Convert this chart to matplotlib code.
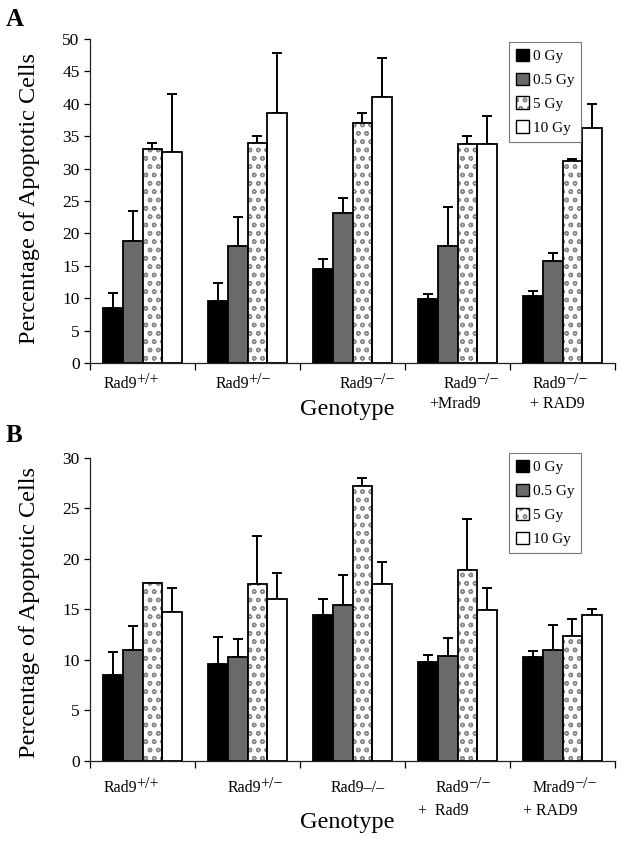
import numpy as np
import matplotlib
matplotlib.use("Agg")
import matplotlib.pyplot as plt
import matplotlib.transforms as mtransforms
from matplotlib.patches import Patch

plt.rcParams["font.family"] = ["Liberation Serif", "DejaVu Serif"]
plt.rcParams["hatch.linewidth"] = 1.0

# ── data ─────────────────────────────────────────────────────────────────────
doses = ["0 Gy", "0.5 Gy", "5 Gy", "10 Gy"]

# panel A: genotype labels (base, superscript, second line)
genotypes_a = [("Rad9", "+/+", ""),
               ("Rad9", "+/\u2212", ""),
               ("Rad9", "\u2212/\u2212", ""),
               ("Rad9", "\u2212/\u2212", "+Mrad9"),
               ("Rad9", "\u2212/\u2212", "+ RAD9")]
means_a_0gy   = [8.5, 9.6, 14.5, 9.9, 10.4]
means_a_05gy  = [18.8, 18.0, 23.1, 18.1, 15.7]
means_a_5gy   = [33.0, 34.0, 37.1, 33.8, 31.1]
means_a_10gy  = [32.5, 38.6, 41.1, 33.8, 36.2]
sd_a_0gy      = [2.3, 2.7, 1.6, 0.7, 0.7]
sd_a_05gy     = [4.7, 4.5, 2.4, 5.9, 1.3]
sd_a_5gy      = [1.0, 1.0, 1.5, 1.2, 0.4]
sd_a_10gy     = [9.0, 9.2, 6.0, 4.3, 3.7]

# panel B
genotypes_b = [("Rad9", "+/+", ""),
               ("Rad9", "+/\u2212", ""),
               ("Rad9\u2013/\u2013", "", ""),
               ("Rad9", "\u2212/\u2212", "+  Rad9"),
               ("Mrad9", "\u2212/\u2212", "+ RAD9")]
means_b_0gy   = [8.5, 9.6, 14.4, 9.8, 10.3]
means_b_05gy  = [11.0, 10.3, 15.4, 10.4, 11.0]
means_b_5gy   = [17.6, 17.5, 27.2, 18.9, 12.4]
means_b_10gy  = [14.7, 16.0, 17.5, 14.9, 14.4]
sd_b_0gy      = [2.3, 2.7, 1.6, 0.7, 0.6]
sd_b_05gy     = [2.4, 1.8, 3.0, 1.8, 2.5]
sd_b_5gy      = [0.05, 4.8, 0.8, 5.0, 1.6]
sd_b_10gy     = [2.4, 2.6, 2.2, 2.2, 0.6]

# ── style ────────────────────────────────────────────────────────────────────
BAR_W      = 0.186
FACES      = ["black", "#6a6a6a", "white", "white"]
HATCH_GRAY = "#8a8a8a"
HATCH      = "oo"
W, H       = 624, 841


def _ax_rect(left, right, top, bottom):
    """pixel box -> figure fraction rect"""
    return [left / W, 1 - bottom / H, (right - left) / W, (bottom - top) / H]


def draw_panel(ax, means, sds, ymax, genos, lab_x, lab_x2, lab_y, lab_y2, geno_y, leg_y):
    n = len(means[0])
    x = np.arange(n)
    for k in range(len(doses)):
        pos = x + (k - 1.5) * BAR_W
        if k == 2:
            ax.bar(pos, means[k], BAR_W, color="white", edgecolor=HATCH_GRAY,
                   linewidth=0, hatch=HATCH, zorder=2)
            ax.bar(pos, means[k], BAR_W, fill=False, edgecolor="black",
                   linewidth=1.3, zorder=3)
        else:
            ax.bar(pos, means[k], BAR_W, color=FACES[k], edgecolor="black",
                   linewidth=1.3, zorder=2)
        ax.errorbar(pos, means[k], yerr=[np.zeros(n), sds[k]], fmt="none",
                    ecolor="black", elinewidth=1.4, capsize=3.6, capthick=1.4,
                    zorder=1)

    ax.set_xlim(-0.5, n - 0.5)
    ax.set_ylim(0, ymax)
    ax.set_yticks(np.arange(0, ymax + 1, 5))
    ax.set_xticks(np.arange(-0.5, n))
    ax.set_xticklabels([])
    ax.tick_params(axis="y", length=4, width=0.9, labelsize=12.5, pad=3.5)
    ax.tick_params(axis="x", length=5, width=0.9)
    for s in ("top", "right"):
        ax.spines[s].set_visible(False)
    for s in ("left", "bottom"):
        ax.spines[s].set_linewidth(0.9)
        ax.spines[s].set_color("#222222")

    # genotype labels
    trans = mtransforms.blended_transform_factory(ax.transData, ax.transAxes)
    for i, (base, sup, line2) in enumerate(genos):
        t = ax.text(i + lab_x[i], lab_y, base, transform=trans, ha="left",
                    va="center", fontsize=11.5)
        if sup:
            ax.annotate(sup, xy=(1.0, 1.0), xycoords=t, xytext=(-1.2, 3.0),
                        textcoords="offset points", ha="left", va="top",
                        fontsize=11.5)
        if line2:
            ax.text(i + lab_x2[i], lab_y2, line2, transform=trans, ha="left",
                    va="center", fontsize=11.5)
    ax.text(0.49, geno_y, "Genotype", transform=ax.transAxes, ha="center",
            va="center", fontsize=17.5)

    handles = [Patch(facecolor="black", edgecolor="black", linewidth=1.0),
               Patch(facecolor=FACES[1], edgecolor="black", linewidth=1.0),
               (Patch(facecolor="white", edgecolor=HATCH_GRAY, linewidth=0, hatch=HATCH),
                Patch(fill=False, edgecolor="black", linewidth=1.0)),
               Patch(facecolor="white", edgecolor="black", linewidth=1.0)]
    leg = ax.legend(handles, doses, loc="upper left", bbox_to_anchor=(0.798, leg_y),
                    fontsize=11, frameon=True, fancybox=False, shadow=False,
                    handlelength=0.85, handleheight=0.85, handletextpad=0.25,
                    labelspacing=0.62, borderpad=0.45, borderaxespad=0)
    leg.get_frame().set_edgecolor("#555555")
    leg.get_frame().set_linewidth(0.8)


fig = plt.figure(figsize=(W / 100, H / 100), dpi=100)

ax_a = fig.add_axes(_ax_rect(90, 615, 39, 363))
draw_panel(ax_a,
           [means_a_0gy, means_a_05gy, means_a_5gy, means_a_10gy],
           [sd_a_0gy, sd_a_05gy, sd_a_5gy, sd_a_10gy],
           50, genotypes_a,
           lab_x=[-0.367, -0.30, -0.119, -0.129, -0.281],
           lab_x2=[0, 0, 0, -0.271, -0.31],
           lab_y=-0.065, lab_y2=-0.127, geno_y=-0.142, leg_y=0.991)

ax_b = fig.add_axes(_ax_rect(90, 615, 457.7, 761))
draw_panel(ax_b,
           [means_b_0gy, means_b_05gy, means_b_5gy, means_b_10gy],
           [sd_b_0gy, sd_b_05gy, sd_b_5gy, sd_b_10gy],
           30, genotypes_b,
           lab_x=[-0.367, -0.186, -0.205, -0.205, -0.281],
           lab_x2=[0, 0, 0, -0.376, -0.376],
           lab_y=-0.089, lab_y2=-0.165, geno_y=-0.204, leg_y=1.015)

for yc in (198 / H, 612 / H):
    fig.text(30 / W, 1 - yc, "Percentage of Apoptotic Cells", rotation=90,
             ha="center", va="center", fontsize=17.5)

fig.text(6 / W, 1 - 19 / H, "A", fontsize=18, fontweight="bold", ha="left", va="center")
fig.text(6 / W, 1 - 436 / H, "B", fontsize=18, fontweight="bold", ha="left", va="center")

fig.savefig("out.png", dpi=100)
